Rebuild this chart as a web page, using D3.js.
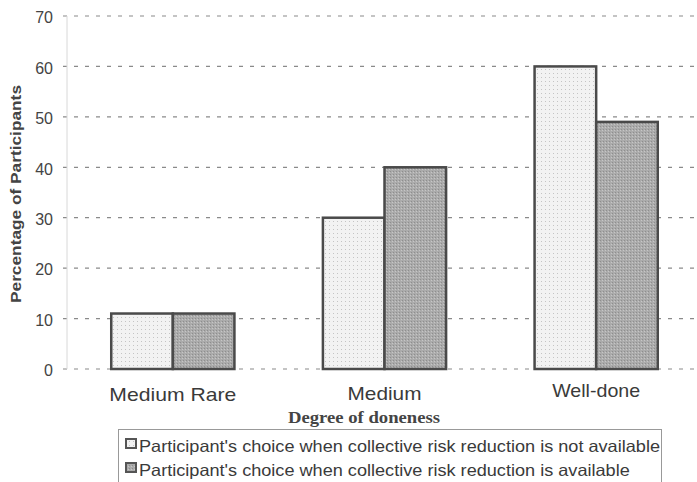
<!DOCTYPE html>
<html><head><meta charset="utf-8">
<script src="https://cdn.jsdelivr.net/npm/d3@7"></script>
<style>body{margin:0;background:#fff}svg{display:block}</style>
</head><body>
<script>
const categories = ["Medium Rare", "Medium", "Well-done"];
const seriesNames = [
  "Participant's choice when collective risk reduction is not available",
  "Participant's choice when collective risk reduction is available"
];
const notAvailable = [11, 30, 60];
const available = [11, 40, 49];
const yTicks = [0, 10, 20, 30, 40, 50, 60, 70];
const yTitle = "Percentage of Participants";
const xTitle = "Degree of doneness";

const W = 697, H = 482;
const SANS = "'Liberation Sans', Arial, sans-serif";
const SERIF = "'Liberation Serif', 'Times New Roman', serif";
const svg = d3.select("body").append("svg").attr("width", W).attr("height", H);
const defs = svg.append("defs");
const p1 = defs.append("pattern").attr("id","pLight").attr("width",4).attr("height",4).attr("patternUnits","userSpaceOnUse");
p1.append("rect").attr("width",4).attr("height",4).attr("fill","#f2f2f2");
p1.append("rect").attr("x",1).attr("y",1).attr("width",1).attr("height",1).attr("fill","#c4c4c4");
const p2 = defs.append("pattern").attr("id","pDark").attr("width",3).attr("height",3).attr("patternUnits","userSpaceOnUse");
p2.append("rect").attr("width",3).attr("height",3).attr("fill","#ababab");
p2.append("rect").attr("x",0).attr("y",0).attr("width",1).attr("height",1).attr("fill","#8e8e8e");
p2.append("rect").attr("x",2).attr("y",1).attr("width",1).attr("height",1).attr("fill","#c6c6c6");

function fitWidth(sel, target) {
  sel.attr("textLength", target).attr("lengthAdjust", "spacingAndGlyphs");
}

const x0 = 67, x1 = 702, yTop = 16, yBot = 369;
const y = d3.scaleLinear().domain([0,70]).range([yBot, yTop]);
const x = d3.scaleBand().domain(categories).range([x0, x1]).paddingInner(0.418).paddingOuter(0.209);
const xs = d3.scaleBand().domain([0,1]).range([0, x.bandwidth()]);

// gridlines
svg.append("g").selectAll("line").data(yTicks).join("line")
  .attr("x1", x0 - 4).attr("x2", W).attr("y1", d => y(d)).attr("y2", d => y(d))
  .attr("stroke", "#8a8a8a").attr("stroke-width", 1.2).attr("stroke-dasharray", "4,7");
svg.append("line").attr("x1", x0).attr("x2", x0).attr("y1", yTop).attr("y2", yBot)
  .attr("stroke", "#d8d8d8").attr("stroke-width", 1);

// y tick labels
const yAxis = svg.append("g").attr("transform", `translate(${x0},0)`)
  .call(d3.axisLeft(y).tickValues(yTicks).tickSize(0).tickPadding(14));
yAxis.select(".domain").remove();
yAxis.selectAll("text").attr("font-family", SANS).attr("font-size", 16)
  .attr("fill", "#444").attr("dy", "0.42em");

// bars
const series = [notAvailable, available];
const fills = ["url(#pLight)", "url(#pDark)"];
series.forEach((vals, si) => {
  svg.append("g").selectAll("rect").data(vals).join("rect")
    .attr("x", (d, i) => x(categories[i]) + xs(si))
    .attr("width", xs.bandwidth())
    .attr("y", d => y(d))
    .attr("height", d => yBot - y(d))
    .attr("fill", fills[si])
    .attr("stroke", "#4a4a4a").attr("stroke-width", 2.5);
});

// category labels
const labelY = [401, 400, 397];
const labelW = [127, 74, 88];
svg.append("g").selectAll("text").data(categories).join("text")
  .attr("x", d => x(d) + x.bandwidth() / 2)
  .attr("y", (d, i) => labelY[i])
  .attr("text-anchor", "middle")
  .attr("font-family", SANS).attr("font-size", 18.5).attr("fill", "#3a3a3a")
  .attr("textLength", (d, i) => labelW[i]).attr("lengthAdjust", "spacingAndGlyphs")
  .text(d => d);

// x title
svg.append("text").attr("x", 364).attr("y", 423).attr("text-anchor", "middle")
  .attr("font-family", SERIF).attr("font-weight", "bold")
  .attr("font-size", 17).attr("fill", "#444").text(xTitle).call(fitWidth, 152);

// y title
svg.append("text").attr("transform", "translate(21,194) rotate(-90)").attr("text-anchor", "middle")
  .attr("font-family", SANS).attr("font-weight", "bold")
  .attr("font-size", 14).attr("fill", "#444").text(yTitle).call(fitWidth, 218);

// legend
const lg = svg.append("g");
lg.append("rect").attr("x", 118.5).attr("y", 429.5).attr("width", 543).attr("height", 60)
  .attr("fill", "none").attr("stroke", "#999").attr("stroke-width", 1);
const legY = [452, 476];
let stretch = 1;
seriesNames.forEach((name, i) => {
  lg.append("rect").attr("x", 126).attr("y", legY[i] - 13).attr("width", 10).attr("height", 9)
    .attr("fill", fills[i]).attr("stroke", "#555").attr("stroke-width", 2);
  const t = lg.append("text").attr("x", 139).attr("y", legY[i])
    .attr("font-family", SANS).attr("font-size", 16.5)
    .attr("fill", "#3a3a3a").text(name);
  const w = t.node().getComputedTextLength();
  if (i === 0) stretch = 521 / w;
  t.call(fitWidth, w * stretch);
});
</script>
</body></html>
